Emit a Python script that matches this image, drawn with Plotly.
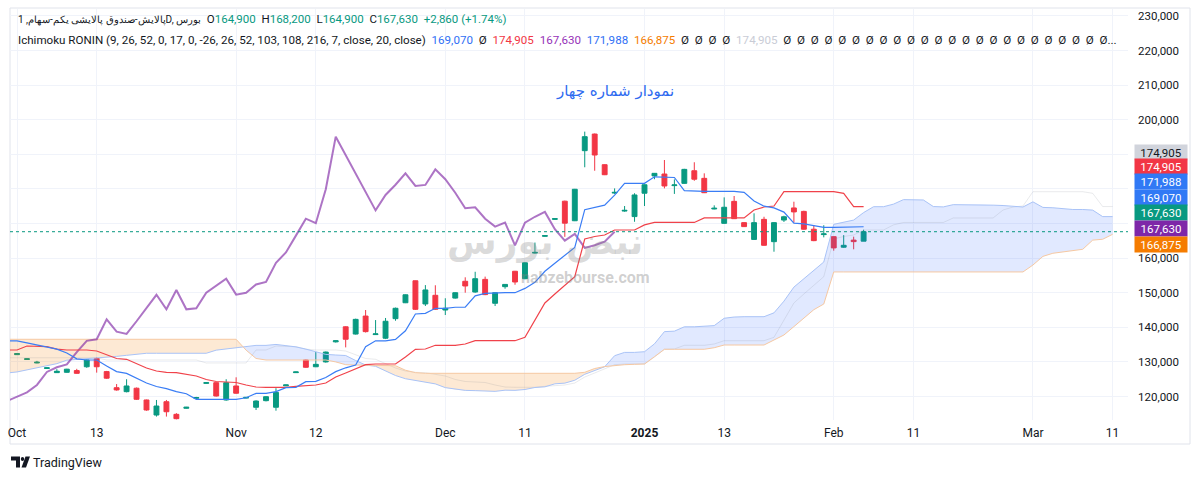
import plotly.graph_objects as go

# ---------------- data ----------------
bar_index = list(range(-8, 78))          # trading-bar positions (0 = 13 Oct)
opens = [132100, 130700, 129700, 128100, 126900, 127000, 127500, 128600, 131000, 127200,
         122550, 121400, 122400, 119000, 114650, 118500, 114850, 116600, 119500, 123800,
         124000, 119000, 123050, 119550, 116900, 118800, 116900, 123100, 126900, 130550,
         128600, 130000, 135800, 140150, 138050, 143250, 137900, 136850, 142500, 147100,
         153450, 146750, 149250, 145000, 148450, 153300, 150200, 153850, 146950, 151750,
         156200, 154050, 161450, 166300, 171200, 176450, 170800, 191050, 195850, 187000,
         178800, 173600, 172000, 178750, 183750, 184300, 180950, 181600, 185250, 183050,
         174200, 170050, 176400, 170250, 165400, 171200, 164750, 171000, 174500, 173500,
         168350, 166800, 166200, 163150, 165200, 164900]
highs = [132500, 131000, 130300, 128400, 127900, 128000, 128000, 130700, 131300, 127400,
         123600, 125000, 122600, 119100, 119000, 119000, 115200, 117000, 119900, 124100,
         124100, 125000, 125550, 119800, 118900, 120100, 122400, 123400, 127200, 130700,
         132850, 133000, 136200, 140300, 142500, 145000, 142100, 142700, 145700, 149500,
         153500, 152200, 152150, 148400, 150100, 154450, 156050, 154650, 150100, 152500,
         156300, 158800, 164500, 166600, 171500, 176600, 180000, 196550, 196000, 187100,
         180150, 175050, 178750, 181300, 184600, 188350, 182750, 185800, 187700, 184500,
         175250, 177550, 177950, 170350, 172950, 171950, 170400, 172250, 176300, 173700,
         169500, 169500, 166300, 166650, 166200, 168200]
lows = [132000, 130600, 129600, 128000, 126800, 126900, 126600, 128300, 126900, 125100,
        121700, 121200, 119000, 115900, 114200, 114200, 113400, 116500, 119300, 123700,
        120000, 118800, 120800, 119450, 116100, 118600, 115900, 123000, 126800, 128300,
        128500, 129800, 135600, 134200, 137900, 138500, 137800, 136600, 141900, 147000,
        145000, 146150, 145000, 143550, 148300, 150000, 150000, 149300, 146150, 151150,
        152300, 153900, 161300, 166200, 171100, 166150, 170700, 186250, 185250, 184000,
        178550, 173400, 170500, 175050, 182800, 180150, 178550, 181500, 182350, 178800,
        174100, 169900, 171300, 169000, 165300, 163600, 161850, 170450, 170250, 168200,
        164900, 166000, 162150, 163000, 162550, 164900]
closes = [132400, 130900, 129900, 128300, 127300, 127900, 126700, 130550, 128600, 125300,
          121900, 123050, 119200, 116100, 117250, 115600, 113600, 116900, 119700, 124000,
          120150, 124000, 120950, 119750, 118700, 119950, 121200, 123350, 127100, 128450,
          129300, 132850, 136100, 136550, 142300, 138750, 138100, 141750, 145500, 149400,
          145200, 150800, 145200, 145500, 150000, 151950, 154050, 149450, 150000, 152400,
          153100, 158650, 161650, 166500, 171400, 170100, 179900, 195100, 189800, 184100,
          179000, 173800, 178250, 181200, 184500, 180850, 181150, 185650, 182800, 178900,
          174400, 174700, 171400, 169100, 170250, 163700, 170250, 171950, 173350, 168350,
          165050, 167000, 162950, 163700, 164770, 167630]

line_index = list(range(-9, 78))         # conversion / base line positions
tenkan = [136100, 136100, 135500, 134900, 134300, 133700, 132600, 130900, 130550, 130550,
          128800, 127200, 126700, 125300, 123900, 122900, 122300, 121400, 120800, 119200,
          119200, 119200, 119200, 119200, 119650, 120900, 120900, 121400, 122550, 122650,
          124300, 124400, 125500, 127200, 128300, 129100, 134400, 136100, 136100, 136500,
          139000, 143850, 144050, 145500, 145500, 145800, 145800, 149100, 149800, 150000,
          150000, 150000, 151250, 153000, 156200, 158500, 160800, 163100, 174000, 174600,
          175300, 178200, 181600, 181600, 181600, 183500, 183500, 183300, 179500, 179300,
          179300, 179300, 179300, 179300, 179000, 176500, 175000, 174500, 173300, 170100,
          169900, 169300, 168900, 168900, 169000, 169070, 169070]
kijun = [133450, 133450, 134600, 134500, 134400, 133700, 133450, 133450, 133450, 133150,
         132000, 130990, 130760, 129400, 128240, 127370, 127000, 126890, 126500, 125930,
         124920, 124340, 124200, 124050, 123330, 122750, 122660, 122660, 122660, 122950,
         123040, 123330, 123900, 125640, 126800, 128100, 129200, 129400, 129400, 129400,
         131420, 133650, 133730, 134800, 134800, 134800, 135180, 136130, 136130, 136130,
         136130, 136130, 137110, 142110, 147030, 149630, 152230, 154630, 165520, 166250,
         166680, 168120, 168120, 168120, 169600, 170300, 170300, 170300, 170300, 170300,
         171600, 171600, 171600, 171600, 171600, 173900, 174770, 175060, 179190, 179190,
         179190, 179190, 179190, 179190, 178730, 174905, 174905]

lead_index = list(range(-9, 103))        # leading spans (cloud) positions
senkou_a = [126800, 127100, 127700, 128300, 128900, 129500, 130500, 130700, 130900, 131000,
            131300, 131600, 131900, 132200, 132500, 132500, 132500, 132500, 132500, 132500,
            132500, 133400, 133700, 134000, 134400, 134780, 134780, 135050, 134700, 134350,
            133700, 133030, 132180, 132000, 131850, 130400, 129100, 128730, 127350, 126070,
            125140, 124650, 124150, 123650, 122570, 122060, 121770, 121700, 121630, 121490,
            121830, 121780, 122030, 122610, 122800, 123670, 123870, 124700, 126420, 127550,
            128600, 131800, 132750, 132750, 132950, 135210, 138750, 138890, 140150, 140150,
            140300, 140490, 142620, 142970, 143070, 143070, 143070, 144180, 147560, 151620,
            154070, 156520, 158870, 169760, 170430, 170990, 173160, 174860, 174860, 175600,
            176900, 176900, 176800, 174900, 174800, 175450, 175450, 175450, 175450, 175300,
            175200, 174890, 174770, 176260, 174650, 174550, 174250, 174050, 174050, 173870,
            171990, 171990]
senkou_b = [136540, 136540, 136540, 136540, 136540, 136540, 136540, 136540, 136540, 136540,
            136540, 136540, 136540, 136540, 136540, 136540, 136540, 136540, 136540, 136540,
            136540, 136540, 136540, 136540, 133400, 131000, 130550, 130550, 130550, 130550,
            130550, 130550, 130550, 130000, 129200, 129100, 129100, 129100, 129100, 128900,
            127600, 126900, 126710, 126710, 126710, 126710, 126710, 126710, 126710, 126710,
            126710, 126710, 126710, 126710, 126710, 126710, 126710, 126710, 127000, 128100,
            128650, 129000, 129200, 129300, 129400, 131500, 133650, 133650, 133650, 133650,
            133650, 134100, 134890, 134890, 134890, 134890, 134890, 136330, 137780, 140200,
            142600, 145090, 146730, 156000, 156000, 156000, 156000, 156000, 156000, 156000,
            156000, 156000, 156000, 156000, 156000, 156000, 156000, 156000, 156000, 156000,
            156000, 156000, 156000, 158000, 160500, 161400, 161800, 162200, 162550, 165200,
            165450, 166875]
# faint forward-displaced base line: values before the first visible base-line point
grey_pre = [131200, 131200, 131200, 131200, 131200, 131200, 131200, 131200, 131200, 131200,
            130550, 130550, 130550, 130550, 130550, 130550, 130550, 130550, 130550, 130550,
            129700, 129700, 129700, 129700, 129700]
shift = 25                              # displacement used by the chart

tick_pos = [-8, 0, 14, 22, 35, 43, 55, 63, 74, 82, 94, 102]
tick_text = ["Oct", "13", "Nov", "12", "Dec", "11", "<b>2025</b>", "13", "Feb", "11", "Mar", "11"]
price_ticks = [120000, 130000, 140000, 150000, 160000, 170000, 180000, 190000, 200000,
               210000, 220000, 230000]
price_tick_text = ["120,000", "130,000", "140,000", "150,000", "160,000", "", "", "",
                   "200,000", "210,000", "220,000", "230,000"]
last_close = 167630

axis_label_text = ["174,905", "174,905", "171,988", "169,070", "167,630", "167,630", "166,875"]

# ---------------- styles / geometry ----------------
GREEN, RED = "#089981", "#f23645"
BLUE, PURPLE, ORANGE = "#3179f5", "#7e27a8", "#f57c00"
DARK = "#131722"
FONT = "Roboto"

PX_L, PX_R, PX_T, PX_B = 10, 1128, 9, 420
SCALE = 9.96
X0PX = 96.7
xmin = -(X0PX - PX_L) / SCALE
xmax = xmin + (PX_R - PX_L) / SCALE
ymax = 234594 - 289 * PX_T
ymin = 234594 - 289 * PX_B


def fx(p):
    return (p - PX_L) / (PX_R - PX_L)


def fy(p):
    return (PX_B - p) / (PX_B - PX_T)


fig = go.Figure()

# ---- cloud fill (split where spans cross) ----
def cloud_segments(xs, a, b):
    segs = []
    cx, ca, cb = [xs[0]], [a[0]], [b[0]]
    sign = a[0] >= b[0]
    for k in range(1, len(xs)):
        s = a[k] >= b[k]
        if s != sign:
            d0 = a[k - 1] - b[k - 1]
            d1 = a[k] - b[k]
            t = d0 / (d0 - d1)
            xc = xs[k - 1] + t * (xs[k] - xs[k - 1])
            yc = a[k - 1] + t * (a[k] - a[k - 1])
            cx.append(xc); ca.append(yc); cb.append(yc)
            segs.append((sign, cx, ca, cb))
            cx, ca, cb = [xc], [yc], [yc]
            sign = s
        cx.append(xs[k]); ca.append(a[k]); cb.append(b[k])
    segs.append((sign, cx, ca, cb))
    return segs


for up, sx, sa, sb in cloud_segments(lead_index, senkou_a, senkou_b):
    fig.add_trace(go.Scatter(
        x=sx + sx[::-1], y=sa + sb[::-1], fill="toself", mode="none",
        fillcolor="rgba(41,98,255,0.14)" if up else "rgba(245,124,0,0.17)",
        hoverinfo="skip"))

grey_line = grey_pre + kijun
fig.add_trace(go.Scatter(x=lead_index, y=grey_line, mode="lines",
                         line=dict(color="rgba(120,123,134,0.16)", width=1), hoverinfo="skip"))
fig.add_trace(go.Scatter(x=lead_index, y=senkou_a, mode="lines",
                         line=dict(color="#a9c3f7", width=1), hoverinfo="skip"))
fig.add_trace(go.Scatter(x=lead_index, y=senkou_b, mode="lines",
                         line=dict(color="#f6c8a2", width=1), hoverinfo="skip"))

# ---- candles ----
fig.add_trace(go.Candlestick(
    x=bar_index, open=opens, high=highs, low=lows, close=closes,
    increasing=dict(line=dict(color=GREEN, width=1), fillcolor=GREEN),
    decreasing=dict(line=dict(color=RED, width=1), fillcolor=RED),
    whiskerwidth=0, hoverinfo="skip"))

# ---- indicator lines ----
lag_x = [bar_index[k] - shift for k in range(len(bar_index)) if bar_index[k] - shift >= -9]
lag_y = [closes[k] for k in range(len(bar_index)) if bar_index[k] - shift >= -9]
fig.add_trace(go.Scatter(x=lag_x, y=lag_y, mode="lines",
                         line=dict(color="rgba(123,31,162,0.62)", width=2), hoverinfo="skip"))
fig.add_trace(go.Scatter(x=line_index, y=kijun, mode="lines",
                         line=dict(color="#f0424a", width=1.2), hoverinfo="skip"))
fig.add_trace(go.Scatter(x=line_index, y=tenkan, mode="lines",
                         line=dict(color="#3a7df5", width=1.2), hoverinfo="skip"))

# ---- last price dotted line ----
fig.add_shape(type="line", xref="paper", yref="y", x0=0, x1=1, y0=last_close, y1=last_close,
              line=dict(color=GREEN, width=1, dash="dot"))

# ---- frame ----
fig.add_shape(type="rect", xref="paper", yref="paper", x0=fx(10), x1=fx(1190), y0=fy(444), y1=fy(8),
              line=dict(color="#e0e3eb", width=1), layer="below")

# ---- price axis labels ----
label_style = [("#d1d4dc", DARK, 152.7), (RED, "white", 166.7), (BLUE, "white", 181.7),
               (BLUE, "white", 197.3), (GREEN, "white", 212.7), (PURPLE, "white", 228.3),
               (ORANGE, "white", 245.0)]
for txt, (bg, fc, yp) in zip(axis_label_text, label_style):
    fig.add_annotation(xref="paper", yref="paper", x=fx(1161), y=fy(yp), text=txt,
                       showarrow=False, bgcolor=bg, width=52, height=15, borderpad=0,
                       font=dict(family=FONT, size=11.5, color=fc), xanchor="center", yanchor="middle")

# ---- legend lines ----
def sp(t, c, extra=""):
    return f'<span style="color:{c}{extra}">{t}</span>'

g = "\u00a0\u00a0"
line1 = (sp("پالایش-صندوق پالایشی یکم-سهام, 1D, بورس", DARK, ";font-size:10px") + g +
         "O" + sp("164,900", GREEN) + g + "H" + sp("168,200", GREEN) + g +
         "L" + sp("164,900", GREEN) + g + "C" + sp("167,630", GREEN) + g +
         sp("+2,860 (+1.74%)", GREEN))
vals = [("169,070", "#2f6ff5"), ("Ø", DARK), ("174,905", RED), ("167,630", "#9632b8"),
        ("171,988", "#2f6ff5"), ("166,875", ORANGE), ("Ø", DARK), ("Ø", DARK), ("Ø", DARK),
        ("Ø", DARK), ("174,905", "#c9ccd6")] + [("Ø", DARK)] * 23 + [("Ø...", DARK)]
line2 = "Ichimoku RONIN (9, 26, 52, 0, 17, 0, -26, 26, 52, 103, 108, 216, 7, close, 20, close)"
line2 += g + g.join(sp(t, c) for t, c in vals)
fig.add_annotation(xref="paper", yref="paper", x=fx(16), y=fy(19), text=line1, showarrow=False,
                   xanchor="left", yanchor="middle", font=dict(family=FONT, size=11.5, color=DARK))
fig.add_annotation(xref="paper", yref="paper", x=fx(16), y=fy(40), text=line2, showarrow=False,
                   xanchor="left", yanchor="middle", font=dict(family=FONT, size=11.6, color=DARK))

# ---- title and watermark ----
fig.add_annotation(xref="paper", yref="paper", x=fx(615), y=fy(80), text="نمودار شماره چهار",
                   showarrow=False, font=dict(family="DejaVu Sans", size=15, color="#2f6bf0"))
fig.add_annotation(xref="paper", yref="paper", x=fx(545), y=fy(242), text="<b>نبض بورس</b>",
                   showarrow=False, font=dict(family="DejaVu Sans", size=36, color="rgba(130,130,130,0.28)"))
fig.add_annotation(xref="paper", yref="paper", x=fx(585), y=fy(277), text="<b>nabzebourse.com</b>",
                   showarrow=False, font=dict(family=FONT, size=16, color="rgba(130,130,130,0.38)"))

# ---- TradingView mark ----
fig.add_annotation(xref="paper", yref="paper", x=fx(31), y=fy(462), text="TradingView",
                   showarrow=False, xanchor="left", yanchor="middle",
                   font=dict(family=FONT, size=12.5, color=DARK))
def pth(points):
    return "M " + " L ".join(f"{fx(a)},{fy(b)}" for a, b in points) + " Z"
fig.add_shape(type="path", xref="paper", yref="paper",
              path=pth([(11, 456.5), (20, 456.5), (20, 467.5), (16, 467.5), (16, 460.5), (11, 460.5)]),
              fillcolor=DARK, line=dict(width=0))
fig.add_shape(type="circle", xref="paper", yref="paper", x0=fx(20.8), x1=fx(24.2), y0=fy(461), y1=fy(457),
              fillcolor=DARK, line=dict(width=0))
fig.add_shape(type="path", xref="paper", yref="paper",
              path=pth([(25.5, 456.5), (30, 456.5), (26, 467.5), (21.5, 467.5)]),
              fillcolor=DARK, line=dict(width=0))

fig.update_layout(
    width=1200, height=477,
    margin=dict(l=PX_L, r=1200 - PX_R, t=PX_T, b=477 - PX_B),
    paper_bgcolor="white", plot_bgcolor="white", showlegend=False,
    xaxis=dict(range=[xmin, xmax], tickvals=tick_pos, ticktext=tick_text, showgrid=True,
               gridcolor="#f0f3fa", gridwidth=1, zeroline=False, ticks="", showline=False,
               rangeslider=dict(visible=False), ticklabelstandoff=4,
               tickfont=dict(family=FONT, size=12, color=DARK)),
    yaxis=dict(side="right", range=[ymin, ymax], tickvals=price_ticks, ticktext=price_tick_text,
               showgrid=True, gridcolor="#f0f3fa", gridwidth=1, zeroline=False, ticks="",
               showline=False, ticklabelstandoff=9,
               tickfont=dict(family=FONT, size=11.5, color=DARK)),
)

fig.write_html("out.html", config={"displayModeBar": False})
